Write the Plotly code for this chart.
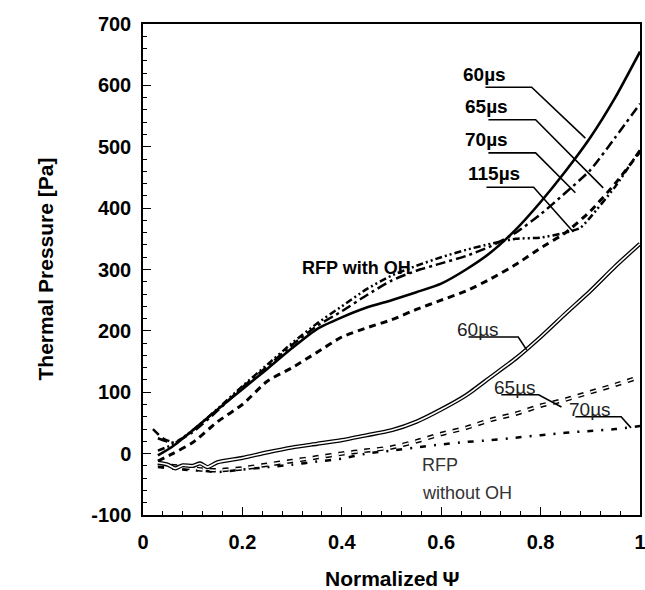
import plotly.graph_objects as go

# ---------------- data ----------------
x_oh = [0.03, 0.06, 0.1, 0.15, 0.2, 0.25, 0.3, 0.35, 0.4, 0.45, 0.5, 0.55,
        0.6, 0.65, 0.7, 0.75, 0.8, 0.85, 0.9, 0.95, 1.0]
oh_60 = [-3, 12, 38, 72, 105, 138, 172, 203, 222, 238, 250, 263,
         277, 300, 328, 365, 410, 460, 515, 580, 655]
oh_65 = [25, 18, 35, 70, 108, 142, 177, 208, 232, 258, 282, 298,
         310, 322, 338, 360, 390, 425, 462, 515, 570]
oh_70 = [-12, 0, 18, 52, 80, 118, 140, 165, 190, 205, 218, 235,
         250, 265, 285, 308, 335, 360, 395, 440, 492]
x_oh115 = [0.03, 0.06, 0.1, 0.15, 0.2, 0.25, 0.3, 0.35, 0.4, 0.45, 0.5, 0.55,
           0.6, 0.65, 0.7, 0.75, 0.8, 0.85, 0.88, 0.9, 0.95, 1.0]
oh_115 = [5, 15, 38, 73, 110, 145, 180, 212, 240, 268, 290, 306,
          320, 332, 342, 350, 352, 360, 368, 385, 435, 495]
x_oh65_start = [0.02, 0.04, 0.06]
oh_65_start = [40, 25, 18]

x_no60 = [0.03, 0.05, 0.065, 0.08, 0.1, 0.115, 0.13, 0.15, 0.2, 0.25, 0.3, 0.35,
          0.4, 0.45, 0.5, 0.55, 0.6, 0.65, 0.7, 0.75, 0.8, 0.85, 0.9, 0.95, 1.0]
no_60 = [-15, -18, -24, -19, -20, -16, -22, -14, -7, 2, 10, 16,
         22, 30, 38, 52, 72, 95, 125, 155, 190, 228, 265, 305, 342]
x_no = [0.03, 0.08, 0.12, 0.15, 0.2, 0.25, 0.3, 0.35, 0.4, 0.45, 0.5, 0.55,
        0.6, 0.65, 0.7, 0.75, 0.8, 0.85, 0.9, 0.95, 1.0]
no_65 = [-18, -22, -26, -27, -24, -18, -12, -6, 0, 5, 10, 20,
         32, 42, 55, 65, 78, 88, 100, 112, 125]
no_70 = [-22, -26, -28, -30, -26, -22, -18, -13, -8, 0, 5, 10,
         15, 19, 22, 26, 30, 34, 37, 40, 45]

x_tickvals = [0, 0.2, 0.4, 0.6, 0.8, 1]
x_ticktext = ["0", "0.2", "0.4", "0.6", "0.8", "1"]
y_tickvals = [-100, 0, 100, 200, 300, 400, 500, 600, 700]
y_ticktext = ["-100", "0", "100", "200", "300", "400", "500", "600", "700"]

# label texts, text anchor (x, y) and leader (underline start, underline end, tip)
labels_oh = ["60\u00b5s", "65\u00b5s", "70\u00b5s", "115\u00b5s"]
labels_oh_xy = [(0.687, 617), (0.691, 566), (0.691, 512), (0.707, 456)]
leaders_oh = [
    ([0.689, 0.782, 0.890], [597, 597, 514]),
    ([0.695, 0.790, 0.926], [544, 544, 433]),
    ([0.695, 0.790, 0.870], [490, 490, 425]),
    ([0.691, 0.786, 0.866], [434, 434, 361]),
]
labels_no = ["60\u00b5s", "65\u00b5s", "70\u00b5s"]
labels_no_xy = [(0.675, 202), (0.749, 108), (0.900, 72)]
leaders_no = [
    ([0.655, 0.755, 0.772], [190, 190, 169]),
    ([0.721, 0.796, 0.842], [96, 96, 76]),
    ([0.870, 0.962, 0.982], [60, 60, 42]),
]

fig = go.Figure()

def line(x, y, color="black", width=2.5, dash="solid"):
    fig.add_trace(go.Scatter(x=x, y=y, mode="lines", showlegend=False,
                             hoverinfo="skip", cliponaxis=True,
                             line=dict(color=color, width=width, dash=dash,
                                       shape="spline", smoothing=0.6)))

# RFP with OH
line(x_oh, oh_70, width=3, dash="7px,5px")
line(x_oh115, oh_115, width=2.5, dash="7px,3px,2px,3px,2px,3px")
line(x_oh, oh_65, width=2.5, dash="10px,4px,3px,4px")
line(x_oh65_start, oh_65_start, width=2.5, dash="8px,5px")
line(x_oh, oh_60, width=2.6)

# RFP without OH
line(x_no, no_70, width=2.5, dash="6px,8px,2px,8px")
line(x_no, no_65, width=4.5, dash="6px,7px")
line(x_no, no_65, color="white", width=1.6, dash="6px,7px")
line(x_no60, no_60, width=4.2)
line(x_no60, no_60, color="white", width=1.6)

# leader lines
for lx, ly in leaders_oh + leaders_no:
    fig.add_trace(go.Scatter(x=lx, y=ly, mode="lines", showlegend=False,
                             hoverinfo="skip",
                             line=dict(color="black", width=1.6)))

ann = []
for t, (ax_, ay_) in zip(labels_oh, labels_oh_xy):
    ann.append(dict(x=ax_, y=ay_, text=t, showarrow=False, xanchor="center",
                    yanchor="middle",
                    font=dict(family="Liberation Sans", size=19, color="black",
                              weight="bold")))
for t, (ax_, ay_) in zip(labels_no, labels_no_xy):
    ann.append(dict(x=ax_, y=ay_, text=t, showarrow=False, xanchor="center",
                    yanchor="middle",
                    font=dict(family="Liberation Sans", size=19, color="#222")))
ann.append(dict(x=0.43, y=302, text="RFP with OH", showarrow=False,
                xanchor="center", yanchor="middle",
                font=dict(family="Liberation Sans", size=18, color="black",
                          weight="bold")))
ann.append(dict(x=0.558, y=-18, text="RFP", showarrow=False,
                xanchor="left", yanchor="middle",
                font=dict(family="Liberation Sans", size=18, color="#333")))
ann.append(dict(x=0.558, y=-64, text="without OH", showarrow=False,
                xanchor="left", yanchor="middle",
                font=dict(family="Liberation Sans", size=18, color="#333")))
# axis titles
ann.append(dict(x=0, y=0.5, xref="paper", yref="paper", xshift=-98,
                text="Thermal Pressure [Pa]", textangle=-90, showarrow=False,
                xanchor="center", yanchor="middle",
                font=dict(family="Liberation Sans", size=21, color="black",
                          weight="bold")))
ann.append(dict(x=0.5, y=0, xref="paper", yref="paper", yshift=-63,
                text="Normalized\u202f\u03a8", showarrow=False,
                xanchor="center", yanchor="middle",
                font=dict(family="Liberation Sans", size=21, color="black",
                          weight="bold")))

axis_common = dict(showline=True, linecolor="black", linewidth=1.5, mirror=True,
                   ticks="inside", tickcolor="black", tickwidth=1.2, ticklen=8,
                   showgrid=False, zeroline=False, automargin=False,
                   ticklabeloverflow="allow",
                   tickfont=dict(family="Liberation Sans", size=20,
                                 color="black", weight="bold"))

fig.update_layout(
    width=645, height=590,
    margin=dict(l=143, r=5, t=24, b=75),
    paper_bgcolor="white", plot_bgcolor="white",
    annotations=ann,
    xaxis=dict(range=[0, 1], tickvals=x_tickvals, ticktext=x_ticktext,
               minor=dict(dtick=0.04, tick0=0, ticks="inside", ticklen=4,
                          tickcolor="black", tickwidth=1),
               ticklabelstandoff=8, **axis_common),
    yaxis=dict(range=[-100, 700], tickvals=y_tickvals, ticktext=y_ticktext,
               minor=dict(dtick=20, tick0=0, ticks="inside", ticklen=4,
                          tickcolor="black", tickwidth=1),
               ticklabelstandoff=6, **axis_common),
)

fig.write_html("out.html", config={"displayModeBar": False},
               post_script="document.body.style.margin='0';"
                           "document.body.style.overflow='hidden';")
